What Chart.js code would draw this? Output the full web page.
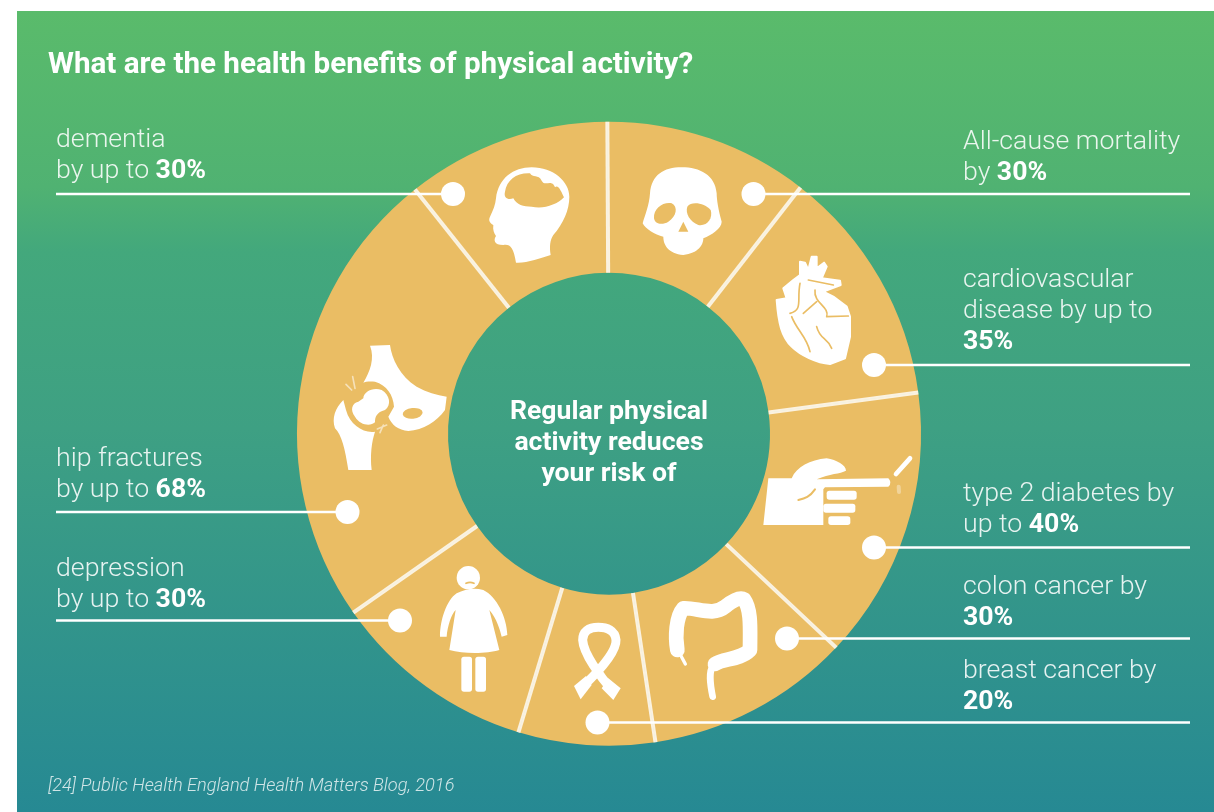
<!DOCTYPE html>
<html lang="en">

<head>
    <meta charset="UTF-8">
    <title>What are the health benefits of physical activity?</title>
    <script src="https://cdn.jsdelivr.net/npm/chart.js"></script>
    <style>
        * {
            margin: 0;
            padding: 0;
            box-sizing: border-box;
        }

        body {
            width: 1214px;
            height: 812px;
            overflow: hidden;
            background: #fff;
            font-family: 'Roboto', sans-serif;
            color: #fff;
        }

        .panel {
            position: absolute;
            left: 17px;
            top: 11px;
            width: 1197px;
            height: 801px;
            background: linear-gradient(180deg, #5abb6b 0%, #50b272 22%, #43a87c 30%, #3ea083 52%, #268993 100%);
        }

        canvas {
            position: absolute;
            left: 0;
            top: 0;
        }

        .title {
            position: absolute;
            left: 48px;
            top: 46px;
            font-size: 29.6px;
            line-height: 34px;
            font-weight: 700;
            white-space: nowrap;
        }

        .label {
            position: absolute;
            font-size: 26.7px;
            line-height: 31px;
            font-weight: 300;
            color: rgba(255, 255, 255, 0.88);
            white-space: nowrap;
        }

        .label b {
            font-weight: 700;
            color: #fff;
        }

        .center {
            position: absolute;
            left: 459px;
            top: 394px;
            width: 300px;
            text-align: center;
            font-size: 26.6px;
            line-height: 31px;
            font-weight: 700;
        }

        .source {
            position: absolute;
            left: 48px;
            top: 773px;
            font-size: 18.2px;
            line-height: 24px;
            font-weight: 300;
            font-style: italic;
            color: rgba(255, 255, 255, 0.78);
            white-space: nowrap;
        }
    </style>
</head>

<body>
    <div class="panel"></div>
    <canvas id="benefitsChart" width="1214" height="812"></canvas>
    <div class="title">What are the health benefits of physical activity?</div>
    <div id="labels"></div>
    <div class="center" id="center"></div>
    <div class="source">[24] Public Health England Health Matters Blog, 2016</div>

    <script>
        // Clockwise from the top of the ring
        const categories = ['All-cause mortality', 'cardiovascular disease', 'type 2 diabetes', 'colon cancer', 'breast cancer', 'depression', 'hip fractures', 'dementia'];
        const riskReduction = [30, 35, 40, 30, 20, 30, 68, 30];
        const labelLines = [
            ['All-cause mortality', 'by '],
            ['cardiovascular', 'disease by up to', ''],
            ['type 2 diabetes by', 'up to '],
            ['colon cancer by', ''],
            ['breast cancer by', ''],
            ['depression', 'by up to '],
            ['hip fractures', 'by up to '],
            ['dementia', 'by up to ']
        ];
        const centerLines = ['Regular physical', 'activity reduces', 'your risk of'];

        // Layout of the call-outs (same order as categories)
        const labelLeft = [963, 963, 963, 963, 963, 56, 56, 56];
        const labelTop = [125, 263, 477, 570, 654, 552, 442, 123];
        const dotX = [753.5, 874, 874, 787, 597.5, 400, 347.5, 453];
        const dotY = [194, 365, 547.5, 638.5, 722.5, 620.5, 512, 194];

        const GOLD = '#eabd64';

        labelLines.forEach((lines, i) => {
            const div = document.createElement('div');
            div.className = 'label';
            div.style.left = labelLeft[i] + 'px';
            div.style.top = labelTop[i] + 'px';
            div.innerHTML = lines.map((line, n) =>
                n === lines.length - 1 ? `${line}<b>${riskReduction[i]}%</b>` : line
            ).join('<br>');
            document.getElementById('labels').appendChild(div);
        });
        document.getElementById('center').innerHTML = centerLines.join('<br>');

        function icon(ctx, ox, oy, draw) {
            ctx.save();
            ctx.translate(ox, oy);
            ctx.scale(1 / 3, 1 / 3);
            ctx.lineCap = 'round';
            ctx.lineJoin = 'round';
            draw(ctx);
            ctx.restore();
        }

        function fillPath(ctx, d, color) {
            ctx.fillStyle = color;
            ctx.fill(new Path2D(d));
        }

        function strokePath(ctx, d, color, width, cap) {
            ctx.strokeStyle = color;
            ctx.lineWidth = width;
            ctx.lineCap = cap || 'round';
            ctx.stroke(new Path2D(d));
        }

        function roundBar(ctx, x, y, w, h) {
            ctx.fillStyle = '#fff';
            ctx.beginPath();
            ctx.roundRect(x, y, w, h, 8);
            ctx.fill();
        }

        function drawIcons(ctx) {
            // head with brain
            icon(ctx, 290, 110, c => {
                fillPath(c, 'M725 172 C670 172 625 205 618 265 C616 285 610 300 600 320 C595 330 598 338 610 345 C608 360 612 370 618 378 C610 390 612 405 640 405 C660 402 670 410 678 458 C710 460 750 445 782 435 C778 410 780 390 790 375 C820 340 838 300 838 260 C838 215 790 172 725 172 Z', '#fff');
                fillPath(c, 'M645 245 C650 210 680 188 720 190 C728 205 745 192 755 212 C765 232 785 205 795 232 C805 222 815 248 822 262 C800 285 760 298 725 290 C700 290 680 285 670 265 C655 270 640 265 645 245Z', GOLD);
            });
            // skull
            icon(ctx, 600, 110, c => {
                fillPath(c, 'M245 172 C190 172 155 195 150 250 C148 285 135 315 128 340 C135 355 165 375 190 380 C190 405 205 430 250 435 C295 430 310 405 310 385 C335 375 365 355 365 335 C355 300 350 270 350 250 C345 195 300 172 245 172Z', '#fff');
                fillPath(c, 'M162 325 C160 295 190 275 215 280 C235 290 230 320 205 335 C190 345 165 345 162 325Z', GOLD);
                fillPath(c, 'M262 290 C275 272 315 280 332 300 C340 325 320 350 295 345 C270 335 255 310 262 290Z', GOLD);
                fillPath(c, 'M250 335 L265 365 L235 365Z', GOLD);
            });
            // heart
            icon(ctx, 600, 110, c => {
                const heart = 'M530 570 L560 565 L550 535 L580 510 L600 495 L600 455 L615 458 L625 480 L635 440 L650 440 L650 475 L672 458 L680 470 L665 505 L720 512 L722 525 L670 545 L700 560 L740 590 L750 620 L750 680 L735 745 L690 762 C650 760 600 735 575 710 C545 680 535 640 530 570Z';
                fillPath(c, heart, '#fff');
                strokePath(c, heart, '#fff', 6);
                strokePath(c, 'M600 520 C590 570 610 600 570 610 M575 620 C590 660 620 680 630 725 M645 540 C640 580 690 590 680 620 L745 618 M650 650 C660 690 680 680 695 715 M610 610 L650 575 M625 510 L700 525', GOLD, 5);
            });
            // hand with cigarette
            icon(ctx, 600, 430, c => {
                fillPath(c, 'M490 285 L505 145 L575 145 C590 110 630 90 680 85 C710 90 738 105 738 122 C720 132 690 130 650 148 L865 145 Q878 158 865 170 L675 172 L670 178 L670 285 Z', '#fff');
                strokePath(c, 'M645 178 C630 200 615 205 595 210', GOLD, 6);
                roundBar(c, 680, 182, 90, 27);
                roundBar(c, 670, 221, 96, 27);
                roundBar(c, 685, 259, 66, 26);
                strokePath(c, 'M888 132 L930 85', '#fff', 14);
                strokePath(c, 'M896 170 L897 186', 'rgba(255,255,255,0.35)', 12);
            });
            // colon
            icon(ctx, 600, 430, c => {
                strokePath(c, 'M232 660 C225 620 228 560 250 535 C290 532 340 560 375 530 C400 510 420 500 432 508 C455 540 450 600 450 660 C420 690 370 685 345 702', '#fff', 44);
                strokePath(c, 'M340 705 C325 725 330 760 338 800', '#fff', 20);
                strokePath(c, 'M240 672 L256 702', '#fff', 10);
            });
            // ribbon
            icon(ctx, 560, 610, c => {
                strokePath(c, 'M62 235 C100 200 170 130 168 90 C165 60 140 52 115 52 C85 52 68 65 68 90 C70 130 120 200 160 245', '#fff', 27, 'butt');
                fillPath(c, 'M42 228 L78 198 L95 225 L62 268Z', '#fff');
                fillPath(c, 'M145 205 L182 235 L160 270 L125 235Z', '#fff');
            });
            // woman
            icon(ctx, 290, 430, c => {
                c.fillStyle = '#fff';
                c.beginPath();
                c.arc(535, 443, 35, 0, Math.PI * 2);
                c.fill();
                fillPath(c, 'M500 490 C470 510 450 570 450 620 L470 620 C472 590 485 550 497 540 L478 660 C520 672 590 672 628 660 L598 540 C620 565 630 600 635 620 L652 615 C650 560 620 500 580 480 C550 472 525 478 500 490Z', '#fff');
                strokePath(c, 'M528 460 Q540 454 552 460', GOLD, 5);
                roundBar(c, 514, 680, 32, 105);
                roundBar(c, 556, 680, 32, 105);
            });
            // hip joint
            icon(ctx, 320, 335, c => {
                fillPath(c, 'M150 32 L210 30 C215 70 240 125 290 155 C320 172 350 180 380 185 L375 225 C350 260 310 285 265 288 C235 285 215 270 205 245 L222 215 C220 180 200 150 165 140 C150 138 135 140 130 143 C150 110 165 70 150 32Z', '#fff');
                c.fillStyle = GOLD;
                c.beginPath();
                c.ellipse(278, 235, 30, 16, -0.1, 0, Math.PI * 2);
                c.fill();
                fillPath(c, 'M130 190 C130 170 160 155 185 165 C210 180 215 210 195 225 C170 232 165 245 165 262 C150 275 120 270 105 245 C90 225 95 205 115 200Z', '#fff');
                fillPath(c, 'M70 195 C45 220 35 250 45 280 C65 300 75 340 85 405 L155 405 C150 360 155 320 165 290 C130 295 90 270 78 225 Z', '#fff');
                strokePath(c, 'M78 148 L95 165 M98 125 L105 160 M180 293 L190 270 M200 270 L172 282', 'rgba(255,255,255,0.55)', 5);
            });
        }

        const ringDecor = {
            id: 'ringDecor',
            afterDatasetsDraw(chart) {
                const ctx = chart.ctx;
                const arcs = chart.getDatasetMeta(0).data;

                // slice dividers sit inside the ring only, so the outer rim stays clean
                ctx.save();
                ctx.strokeStyle = 'rgba(255, 255, 255, 0.8)';
                ctx.lineWidth = 4;
                arcs.forEach(arc => {
                    const a = arc.startAngle;
                    ctx.beginPath();
                    ctx.moveTo(arc.x + Math.cos(a) * arc.innerRadius, arc.y + Math.sin(a) * arc.innerRadius);
                    ctx.lineTo(arc.x + Math.cos(a) * arc.outerRadius, arc.y + Math.sin(a) * arc.outerRadius);
                    ctx.stroke();
                });
                ctx.restore();

                drawIcons(ctx);

                // leader lines and dots
                ctx.save();
                ctx.strokeStyle = '#fff';
                ctx.fillStyle = '#fff';
                ctx.lineWidth = 2.5;
                dotX.forEach((x, i) => {
                    const end = labelLeft[i] < 300 ? 56 : 1190;
                    ctx.beginPath();
                    ctx.moveTo(end, dotY[i]);
                    ctx.lineTo(x, dotY[i]);
                    ctx.stroke();
                    ctx.beginPath();
                    ctx.arc(x, dotY[i], 12, 0, Math.PI * 2);
                    ctx.fill();
                });
                ctx.restore();
            }
        };

        new Chart(document.getElementById('benefitsChart'), {
            type: 'doughnut',
            data: {
                labels: categories,
                datasets: [{
                    data: riskReduction,
                    backgroundColor: GOLD,
                    borderWidth: 0
                }]
            },
            options: {
                responsive: false,
                animation: false,
                cutout: '51.6%',
                rotation: -0.3,
                layout: { padding: { left: 297, right: 293, top: 121.5, bottom: 66 } },
                plugins: {
                    legend: { display: false },
                    tooltip: { enabled: false }
                }
            },
            plugins: [ringDecor]
        });
    </script>
</body>

</html>
